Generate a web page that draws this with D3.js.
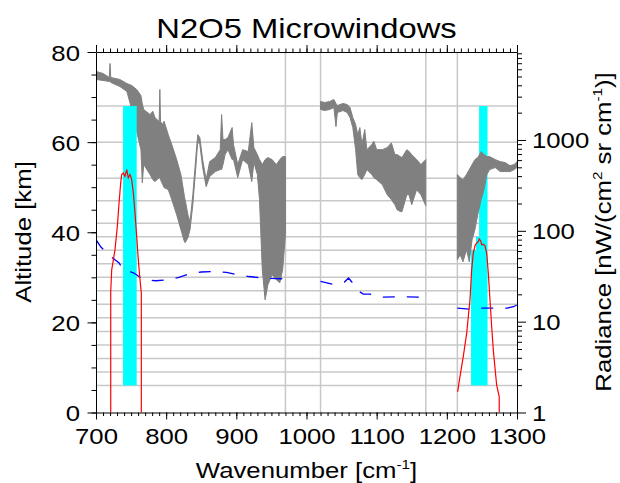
<!DOCTYPE html>
<html><head><meta charset="utf-8">
<script src="https://cdn.jsdelivr.net/npm/d3@7"></script>
<style>
body{margin:0;background:#fff}
text{font-family:"Liberation Sans",Arial,Helvetica,sans-serif;fill:#000}
</style>
</head><body>
<svg id="c" width="620" height="483"></svg>
<script>
// ---------- data ----------
const tangentAltitudes = [6,9,12,15,18,21,24,27,30,33,36,39,42,47,52,60,68];
const regionBounds = [970,1020,1170,1215];
const xTicks = [700,800,900,1000,1100,1200,1300];
const altTicks = [0,20,40,60,80];
const radTicks = [1,10,100,1000];

// gray spectrum, envelope (upper / lower radiance) per region
const spec1Wn = [700,710,719,720,721,734,744,751,758,764,766,768,777,781,784,790,791,792,795,797,803,808,815,821,826,827,831,834,838,842,845,848,852,857,862,870,877,879,881,884,888,894,896,902,909,917,922,925,930,933,937,941,945,951,957,962,966,970];
const spec1Hi = [5680,5395,4875,6955,4875,4635,4185,3980,3595,3090,2500,2165,1905,2070,1765,1595,3595,1595,1480,1607,1145,890,608,416,240,220,150,126,250,608,1145,1062,608,366,578,640,783,1905,1010,1010,1062,1370,890,536,783,745,1555,824,690,608,536,608,640,608,536,608,656,656];
const spec1Lo = [4635,4520,4405,4405,4300,3880,3420,2165,1235,783,337,536,416,366,348,385,385,366,323,299,284,220,150,103,76,74,84,103,194,472,960,890,497,306,395,449,472,472,536,690,783,608,608,385,608,536,348,564,416,220,37.2,17.4,25.5,32.8,28.9,26.8,37.2,90.6];

const spec2Wn = [1020,1026,1033,1039,1042,1044,1052,1058,1062,1066,1070,1073,1076,1079,1083,1086,1093,1096,1100,1108,1115,1121,1126,1129,1133,1136,1143,1146,1150,1157,1163,1170];
const spec2Hi = [2650,2585,2650,2790,2520,2395,2520,2455,2275,1765,1480,1145,1370,890,1303,783,890,968,783,783,824,929,690,690,660,640,783,750,690,608,536,608];
const spec2Lo = [2165,2110,2165,2275,1405,2005,2110,2005,1765,1370,783,416,385,366,416,472,416,385,366,323,250,220,194,171,164,162,250,250,194,284,250,189];

const spec3Wn = [1215,1219,1223,1228,1232,1236,1240,1244,1249,1253,1257,1261,1269,1276,1283,1290,1296,1300];
const spec3Hi = [416,385,366,416,472,536,608,640,745,690,656,656,608,578,564,522,536,578];
const spec3Lo = [48,54.5,45.6,62,45.6,79.8,103,150,220,284,416,472,497,449,449,449,472,497];

// blue dashed (noise) curves
const nesr1Wn = [700,707,721,733,738,754,768,785,801,817,833,850,869,886,902,918,935,949,970];
const nesr1 = [79.8,66.3,52.2,44.2,37.9,34.3,28.9,28.2,28.9,30.6,33.7,35.2,35.7,34.8,32.8,31.4,30.4,29.9,29.6];
const nesr2Wn = [1020,1037,1054,1060,1064,1075,1081,1090,1108,1125,1143,1160,1170];
const nesr2 = [27.7,25.9,27.3,30.2,27.7,21.5,20.1,20.1,18.6,18.7,18.7,18.6,18.6];
const nesr3Wn = [1215,1233,1251,1268,1286,1295,1300];
const nesr3 = [14.1,13.7,14.1,14.1,14.1,14.6,15.3];

// red curves
const red1Wn = [721.0,721.0,722.4,727.1,730.4,733.2,735.2,736.6,738.9,741.3,743.8,746.0,748.5,750.9,753.2,755.6,758.0,760.3,762.7,764.6,764.6];
const red1 = [1,21.5,37.2,62,112,220,337,416,434,398,472,382,416,366,261,157,86.7,48,28.9,20.6,1];
const red2Wn = [1215.4,1218.7,1223.4,1228.3,1233.0,1235.4,1237.7,1240.1,1242.5,1244.8,1246.2,1248.2,1249.7,1252.0,1254.4,1256.8,1259.1,1261.5,1263.9,1266.2,1271.0,1274.7,1274.7];
const red2 = [1.69,2.48,4.12,7.47,17.4,37.2,56.9,68.5,73.4,75.9,81.3,77.9,70.3,71.2,68.5,56.9,34.3,17.4,8.83,4.89,2.01,1.49,1];

// microwindows: [altLow, altHigh, wnLow, wnHigh]
const mw1 = [[6,68,738.5,758]];
const mw2 = [[39,68,1246,1258],[36,39,1241.5,1258],[6,36,1234.5,1258]];

// ---------- chart ----------
const M = {l:96, t:52}, W = 421, H = 360.5, SX = 1.17;
const svg = d3.select("#c");
const g = svg.append("g").attr("transform",`translate(${M.l},${M.t})`);
const x = d3.scaleLinear().domain([700,1300]).range([0,W]);
const yAlt = d3.scaleLinear().domain([0,80]).range([H,0]);
const yRad = d3.scaleLog().domain([1,9300]).range([H,0]);

svg.append("defs").append("clipPath").attr("id","clip")
  .append("rect").attr("width",W).attr("height",H);
const p = g.append("g").attr("clip-path","url(#clip)");

// grid
p.selectAll(".hg").data(tangentAltitudes).join("line")
  .attr("x1",0).attr("x2",W).attr("y1",d=>yAlt(d)).attr("y2",d=>yAlt(d))
  .attr("stroke","#c8c8c8").attr("stroke-width",1.5);
p.selectAll(".vg").data(regionBounds).join("line")
  .attr("y1",0).attr("y2",H).attr("x1",d=>x(d)).attr("x2",d=>x(d))
  .attr("stroke","#c8c8c8").attr("stroke-width",1.5);

const zip3 = (w,h,l)=>w.map((v,i)=>({wn:v,hi:h[i],lo:l[i]}));
const area = d3.area().x(d=>x(d.wn)).y0(d=>yRad(d.lo)).y1(d=>yRad(d.hi));
function drawSpec(data){
  p.append("path").datum(data).attr("d",area)
   .attr("fill","#808080").attr("stroke","#808080").attr("stroke-width",1)
   .attr("stroke-linejoin","round");
}
function drawMW(rows){
  p.selectAll(null).data(rows).join("rect")
   .attr("x",d=>x(d[2])).attr("width",d=>x(d[3])-x(d[2]))
   .attr("y",d=>yAlt(d[1])).attr("height",d=>yAlt(d[0])-yAlt(d[1]))
   .attr("fill","#00ffff");
}
drawSpec(zip3(spec1Wn,spec1Hi,spec1Lo));
drawSpec(zip3(spec2Wn,spec2Hi,spec2Lo));
drawMW(mw1);
drawMW(mw2);
drawSpec(zip3(spec3Wn,spec3Hi,spec3Lo));

const line = d3.line().x(d=>x(d[0])).y(d=>yRad(d[1]));
[[nesr1Wn,nesr1],[nesr2Wn,nesr2],[nesr3Wn,nesr3]].forEach(([w,v])=>{
  p.append("path").datum(w.map((d,i)=>[d,v[i]])).attr("d",line)
   .attr("fill","none").attr("stroke","#0000ff").attr("stroke-width",1.3)
   .attr("stroke-dasharray","12,12");
});
[[red1Wn,red1],[red2Wn,red2]].forEach(([w,v])=>{
  p.append("path").datum(w.map((d,i)=>[d,v[i]])).attr("d",line)
   .attr("fill","none").attr("stroke","#ff0000").attr("stroke-width",1.2);
});

// axes
const fs = "22px";
const minorX = d3.range(700,1301,10);
g.append("g").attr("transform",`translate(0,${H})`)
  .call(d3.axisBottom(x).tickValues(minorX).tickSize(3.5).tickFormat(""))
  .call(s=>s.select(".domain").remove());
g.append("g").attr("transform",`translate(0,${H})`)
  .call(d3.axisBottom(x).tickValues(xTicks).tickSize(7).tickSizeOuter(0).tickFormat(d3.format("d")))
  .call(s=>s.selectAll("text").attr("y",null).attr("dy",null)
     .attr("transform",`translate(0,31.5) scale(${SX},1)`).style("font-size",fs));
g.append("g")
  .call(d3.axisTop(x).tickValues(minorX).tickSize(3.5).tickFormat(""))
  .call(s=>s.select(".domain").remove());
g.append("g")
  .call(d3.axisTop(x).tickValues(xTicks).tickSize(7).tickSizeOuter(0).tickFormat(""));

g.append("g")
  .call(d3.axisLeft(yAlt).tickValues(d3.range(0,81,5)).tickSize(4.5).tickFormat(""))
  .call(s=>s.select(".domain").remove());
g.append("g")
  .call(d3.axisLeft(yAlt).tickValues(altTicks).tickSize(8.5).tickSizeOuter(0).tickFormat(d3.format("d")))
  .call(s=>s.selectAll("text").attr("x",null).attr("dy",null)
     .attr("transform",`translate(-16,8) scale(${SX},1)`).style("font-size",fs));

const radMinor = [];
[1,10,100,1000].forEach(b=>{for(let k=2;k<=9;k++){if(b*k<=9300) radMinor.push(b*k);}});
g.append("g").attr("transform",`translate(${W},0)`)
  .call(d3.axisRight(yRad).tickValues(radMinor).tickSize(5).tickFormat(""))
  .call(s=>s.select(".domain").remove());
g.append("g").attr("transform",`translate(${W},0)`)
  .call(d3.axisRight(yRad).tickValues(radTicks).tickSize(9).tickSizeOuter(0).tickFormat(d3.format("d")))
  .call(s=>s.selectAll("text").attr("x",null).attr("dy",null)
     .attr("transform",`translate(15,8) scale(${SX},1)`).style("font-size",fs));

g.selectAll(".domain").attr("stroke","#000");
g.selectAll(".tick line").attr("stroke","#000");

// titles
svg.append("text").attr("transform",`translate(306.5,38) scale(${SX},1)`)
  .attr("text-anchor","middle").style("font-size","28px").text("N2O5 Microwindows");

const xt = svg.append("text").attr("transform",`translate(306.5,478) scale(${SX},1)`)
  .attr("text-anchor","middle").style("font-size",fs);
xt.append("tspan").text("Wavenumber [cm");
xt.append("tspan").attr("dy",-9).style("font-size","13px").text("-1");
xt.append("tspan").attr("dy",9).text("]");

svg.append("text").attr("transform",`translate(31,232) rotate(-90) scale(${SX},1)`)
  .attr("text-anchor","middle").style("font-size",fs).text("Altitude [km]");

const rt = svg.append("text").attr("transform",`translate(611,232) rotate(-90) scale(${SX},1)`)
  .attr("text-anchor","middle").style("font-size",fs);
rt.append("tspan").text("Radiance [nW/(cm");
rt.append("tspan").attr("dy",-9).style("font-size","13px").text("2");
rt.append("tspan").attr("dy",9).text(" sr cm");
rt.append("tspan").attr("dy",-9).style("font-size","13px").text("-1");
rt.append("tspan").attr("dy",9).text(")]");
</script>
</body></html>
